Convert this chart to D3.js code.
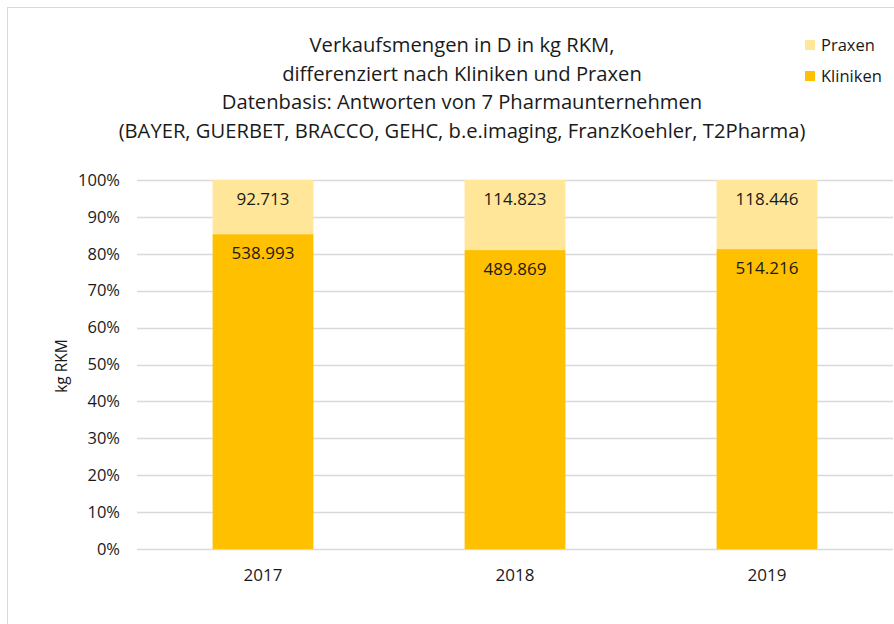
<!DOCTYPE html>
<html>
<head>
<meta charset="utf-8">
<script src="https://cdn.jsdelivr.net/npm/d3@7"></script>
<style>
    body { margin: 0; background: #fff; }
    svg text { font-family: "Open Sans", "Noto Sans", sans-serif; fill: #1a1a1a; }
</style>
</head>
<body>
<script>
"use strict";
(function(){
    // data
    const years = ["2017", "2018", "2019"]
    const kliniken = [538993, 489869, 514216]
    const praxen = [92713, 114823, 118446]
    const yTicks = [0, 0.1, 0.2, 0.3, 0.4, 0.5, 0.6, 0.7, 0.8, 0.9, 1]
    const seriesNames = ["Praxen", "Kliniken"]
    const seriesColors = ["#FFE699", "#FFC000"]
    const titleLines = [
        "Verkaufsmengen in D in kg RKM,",
        "differenziert nach Kliniken und Praxen",
        "Datenbasis: Antworten von 7 Pharmaunternehmen",
        "(BAYER, GUERBET, BRACCO, GEHC, b.e.imaging, FranzKoehler, T2Pharma)"
    ]

    const measurements = {
        width: 894,
        height: 624,
        left: 137,
        right: 893,
        top: 180,
        bottom: 549
    }

    const svg = d3.select("body").append("svg")
        .attr("width", measurements.width)
        .attr("height", measurements.height)

    // chart frame
    svg.append("rect")
        .attr("x", 7.5).attr("y", 7.5)
        .attr("width", 900).attr("height", 640)
        .attr("fill", "none")
        .attr("stroke", "#d9d9d9")

    const scaleX = d3.scaleBand()
        .domain(years)
        .range([measurements.left, measurements.right])
    const scaleY = d3.scaleLinear()
        .domain([0, 1])
        .range([measurements.bottom, measurements.top])
    const barWidth = scaleX.bandwidth() * 0.4

    // gridlines
    svg.append("g")
        .selectAll("line")
        .data(yTicks)
        .enter()
        .append("line")
            .attr("x1", measurements.left)
            .attr("x2", measurements.right)
            .attr("y1", d => Math.round(scaleY(d)) + 0.5)
            .attr("y2", d => Math.round(scaleY(d)) + 0.5)
            .attr("stroke", "#d9d9d9")
            .attr("stroke-width", 1.5)

    // y axis labels
    const yAxis = d3.axisLeft(scaleY)
        .tickValues(yTicks)
        .tickFormat(d3.format(".0%"))
        .tickSize(0)
        .tickPadding(17)
    const gy = svg.append("g")
        .attr("transform", `translate(${measurements.left}, 0)`)
        .call(yAxis)
    gy.select(".domain").remove()
    gy.selectAll("text")
        .style("font-size", "16.5px")
        .attr("font-family", null)

    // x axis labels
    const xAxis = d3.axisBottom(scaleX).tickSize(0).tickPadding(20)
    const gx = svg.append("g")
        .attr("transform", `translate(0, ${measurements.bottom})`)
        .call(xAxis)
    gx.select(".domain").remove()
    gx.selectAll("text")
        .style("font-size", "17px")
        .attr("font-family", null)

    // stacked bars (share of total)
    const rows = years.map((y, i) => ({ year: y, Kliniken: kliniken[i], Praxen: praxen[i] }))
    const stack = d3.stack()
        .keys(["Kliniken", "Praxen"])
        .offset(d3.stackOffsetExpand)
    const layers = stack(rows)

    layers.forEach(function(layer) {
        const color = seriesColors[seriesNames.indexOf(layer.key)]
        const g = svg.append("g")
        g.selectAll("rect")
            .data(layer)
            .enter()
            .append("rect")
                .attr("x", d => scaleX(d.data.year) + (scaleX.bandwidth() - barWidth) / 2)
                .attr("width", barWidth)
                .attr("y", d => scaleY(d[1]))
                .attr("height", d => scaleY(d[0]) - scaleY(d[1]))
                .attr("fill", color)
        // value labels, inside end
        g.selectAll("text")
            .data(layer)
            .enter()
            .append("text")
                .attr("x", d => scaleX(d.data.year) + scaleX.bandwidth() / 2)
                .attr("y", d => scaleY(d[1]) + 25)
                .attr("text-anchor", "middle")
                .style("font-size", "17px")
                .text(d => d3.format(",")(d.data[layer.key]).replace(/,/g, "."))
    })

    // y axis title
    svg.append("text")
        .attr("transform", "translate(67, 366) rotate(-90)")
        .attr("text-anchor", "middle")
        .style("font-size", "15.5px")
        .text("kg RKM")

    // title, sized so the long line fits the reference width
    const title = svg.append("g")
    titleLines.forEach(function(line, i) {
        title.append("text")
            .attr("x", 462)
            .attr("y", 52 + i * 28.5)
            .attr("text-anchor", "middle")
            .style("font-size", "18px")
            .text(line)
    })
    const longest = title.selectAll("text").nodes()[3].getComputedTextLength()
    const fitSize = 18 * 687 / longest
    title.selectAll("text").style("font-size", fitSize + "px")

    // legend
    const legend = svg.append("g")
    seriesNames.forEach(function(name, i) {
        legend.append("rect")
            .attr("x", 805)
            .attr("y", 40 + i * 31)
            .attr("width", 10)
            .attr("height", 10)
            .attr("fill", seriesColors[i])
        legend.append("text")
            .attr("x", 821)
            .attr("y", 51 + i * 31)
            .style("font-size", "16.5px")
            .text(name)
    })
})()
</script>
</body>
</html>
